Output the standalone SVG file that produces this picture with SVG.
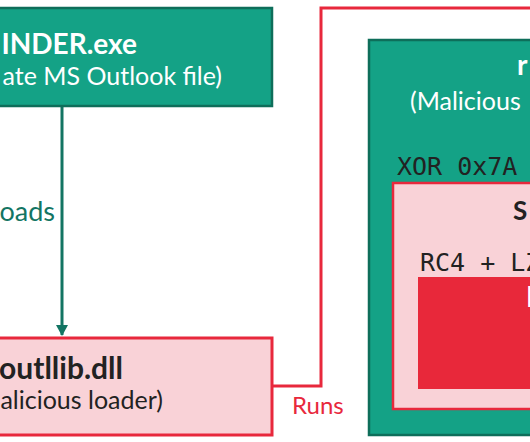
<svg xmlns="http://www.w3.org/2000/svg" width="530" height="442" viewBox="0 0 530 442">
<style>
.t{font-family:Lato,"Open Sans","Liberation Sans",sans-serif;font-size:25px}
.b{font-weight:bold;font-size:28px}
.m{font-family:"DejaVu Sans Mono","Liberation Mono",monospace;font-size:25px;fill:#222}
.green{fill:#14A286;stroke:#0E6E5A;stroke-width:2.5}
.pink{fill:#F9D2D7;stroke:#E8283C;stroke-width:3}
</style>
<defs>
<marker id="ah" markerWidth="12" markerHeight="12" refX="10" refY="6" orient="auto" markerUnits="userSpaceOnUse">
<path d="M0,0 L11,6 L0,12 Z" fill="#137563"/>
</marker>
</defs>
<rect width="530" height="442" fill="#fff"/>
<g id="connectors">
<line x1="62" y1="107" x2="62" y2="335" stroke="#137563" stroke-width="3" marker-end="url(#ah)"/>
<text class="t" x="55" y="221" text-anchor="end" fill="#137563" style="font-size:27px">oads</text>
<polyline points="272,386 321,386 321,8 540,8" fill="none" stroke="#E8283C" stroke-width="3"/>
<text class="t" x="292" y="414" fill="#E8283C" style="font-size:24px">Runs</text>
</g>
<g id="finder">
<rect class="green" x="-10" y="8" width="282" height="98"/>
<text class="t b" x="137" y="54" text-anchor="end" fill="#fff">INDER.exe</text>
<text class="t" x="222" y="85" text-anchor="end" fill="#fff">ate MS Outlook file)</text>
</g>
<g id="outllib">
<rect class="pink" x="-10" y="338" width="282" height="97"/>
<text class="t b" x="123" y="379" text-anchor="end" fill="#222" style="font-size:30px">outllib.dll</text>
<text class="t" x="163" y="409" text-anchor="end" fill="#222">alicious loader)</text>
</g>
<g id="malicious">
<rect class="green" x="369" y="40" width="180" height="395"/>
<text class="t b" x="517" y="75" fill="#fff">r</text>
<text class="t" x="410" y="110" fill="#fff">(Malicious</text>
<text class="m" x="397" y="175">XOR 0x7A</text>
</g>
<g id="shellcode">
<rect x="393" y="183" width="150" height="226" fill="#F9D2D7" stroke="#E8283C" stroke-width="2.5"/>
<text class="t b" x="513" y="220" fill="#222" style="font-size:26px">S</text>
<text class="m" x="420" y="271">RC4 + LZ</text>
</g>
<g id="payload">
<rect x="418" y="277" width="130" height="112" fill="#E8283A"/>
<text class="t b" x="526" y="307" fill="#fff">P</text>
</g>
</svg>
